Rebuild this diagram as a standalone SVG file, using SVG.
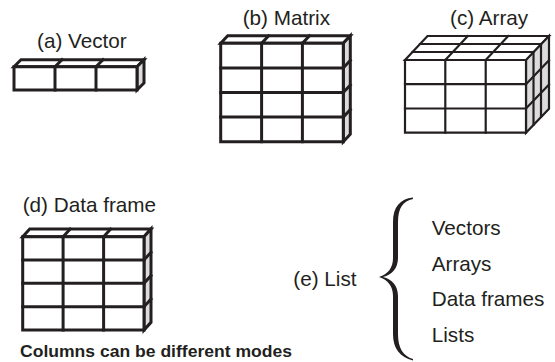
<svg xmlns="http://www.w3.org/2000/svg" width="555" height="362" viewBox="0 0 555 362">
<style>
text{font-family:"Liberation Sans",Arial,sans-serif;font-size:20.7px;fill:#231f20}
.b{font-weight:bold;font-size:17px}
.k path,.k line,.k polygon{stroke:#231f20;stroke-linejoin:miter;stroke-linecap:square}
.t{stroke-width:3}
.n{stroke-width:2.2}
.f{fill:#fff}
.s{fill:#dcdcdc}
</style>
<rect width="555" height="362" fill="#fff"/>

<g id="vector" class="k t">
<text x="37" y="48" stroke="none">(a) Vector</text>
<polygon class="f" points="14,66.7 21,59.7 144,59.7 137,66.7"/>
<polygon class="s" points="137,66.7 144,59.7 144,83 137,90"/>
<polygon class="f" points="14,66.7 137,66.7 137,90 14,90"/>
<line x1="55" y1="66.7" x2="55" y2="90"/><line x1="96" y1="66.7" x2="96" y2="90"/>
<line x1="55" y1="66.7" x2="62" y2="59.7"/><line x1="96" y1="66.7" x2="103" y2="59.7"/>
</g>

<g id="matrix" class="k t">
<text x="242.7" y="25" stroke="none">(b) Matrix</text>
<polygon class="f" points="220.7,43.3 227.7,35.8 350.3,35.8 343.3,43.3"/>
<polygon class="s" points="343.3,43.3 350.3,35.8 350.3,134.2 343.3,141.7"/>
<polygon class="f" points="220.7,43.3 343.3,43.3 343.3,141.7 220.7,141.7"/>
<line x1="261.6" y1="43.3" x2="261.6" y2="141.7"/><line x1="302.4" y1="43.3" x2="302.4" y2="141.7"/>
<line x1="220.7" y1="67.9" x2="343.3" y2="67.9"/><line x1="220.7" y1="92.5" x2="343.3" y2="92.5"/><line x1="220.7" y1="117.1" x2="343.3" y2="117.1"/>
<line x1="261.6" y1="43.3" x2="268.6" y2="35.8"/><line x1="302.4" y1="43.3" x2="309.4" y2="35.8"/>
<line x1="343.3" y1="67.9" x2="350.3" y2="60.4"/><line x1="343.3" y1="92.5" x2="350.3" y2="85"/><line x1="343.3" y1="117.1" x2="350.3" y2="109.6"/>
</g>

<g id="array" class="k n">
<text x="450" y="25" stroke="none">(c) Array</text>
<polygon class="f" points="405,60 427.5,36 549,36 526.5,60"/>
<polygon class="s" points="526,60 549,36 549,108.7 526,132.7"/>
<polygon class="f" points="405,60 526,60 526,132.7 405,132.7"/>
<line x1="445.3" y1="60" x2="445.3" y2="132.7"/><line x1="485.7" y1="60" x2="485.7" y2="132.7"/>
<line x1="405" y1="84.2" x2="526" y2="84.2"/><line x1="405" y1="108.5" x2="526" y2="108.5"/>
<line x1="412.5" y1="52" x2="533.5" y2="52"/><line x1="420" y1="44" x2="541" y2="44"/>
<line x1="445.3" y1="60" x2="467.8" y2="36"/><line x1="485.7" y1="60" x2="508.2" y2="36"/>
<line x1="533.5" y1="52" x2="533.5" y2="124.7"/><line x1="541" y1="44" x2="541" y2="116.7"/>
<line x1="526" y1="84.2" x2="549" y2="60.2"/><line x1="526" y1="108.5" x2="549" y2="84.5"/>
</g>

<g id="dataframe" class="k t">
<text x="22.7" y="211.7" stroke="none">(d) Data frame</text>
<polygon class="f" points="22.7,236.7 29.7,229 151,229 144,236.7"/>
<polygon class="s" points="144,236.7 151,229 151,322.3 144,330"/>
<polygon class="f" points="22.7,236.7 144,236.7 144,330 22.7,330"/>
<line x1="63.1" y1="236.7" x2="63.1" y2="330"/><line x1="103.6" y1="236.7" x2="103.6" y2="330"/>
<line x1="22.7" y1="260" x2="144" y2="260"/><line x1="22.7" y1="283.3" x2="144" y2="283.3"/><line x1="22.7" y1="306.7" x2="144" y2="306.7"/>
<line x1="63.1" y1="236.7" x2="70.1" y2="229"/><line x1="103.6" y1="236.7" x2="110.6" y2="229"/>
<line x1="144" y1="260" x2="151" y2="252.3"/><line x1="144" y1="283.3" x2="151" y2="275.6"/><line x1="144" y1="306.7" x2="151" y2="299"/>
<text class="b" x="20" y="356.5" stroke="none" textLength="272" lengthAdjust="spacingAndGlyphs">Columns can be different modes</text>
</g>

<g id="list">
<text x="293.3" y="286">(e) List</text>
<path fill="#231f20" d="M413,197.5 C400,199 393,207 393,222 L393,258 C393,268 388,274 379,277 C388,280 393,286 393,296 L393,334 C393,349 400,357 413,360.5 L413,359 C403,356 398,348 398,334 L398,296 C398,286 392,279 383,277 C392,275 398,268 398,258 L398,222 C398,208 403,201 413,199 Z"/>
<text x="431.7" y="235">Vectors</text>
<text x="431.7" y="270.5">Arrays</text>
<text x="431.7" y="306">Data frames</text>
<text x="431.7" y="341.5">Lists</text>
</g>
</svg>
